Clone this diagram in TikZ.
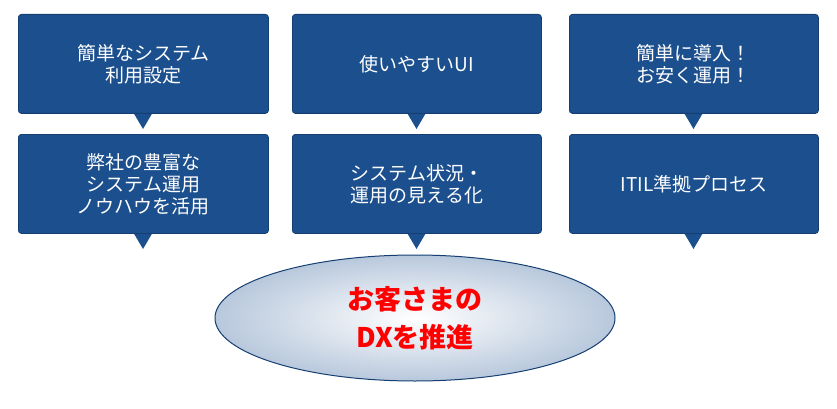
\documentclass[tikz,border=0pt]{standalone}
\usepackage{fontspec}
\setmainfont{Noto Sans CJK JP}
\usetikzlibrary{shadings,shapes.geometric}
\definecolor{boxblue}{HTML}{1B4F8E}
\definecolor{boxedge}{HTML}{153F72}
\definecolor{ellfill}{HTML}{B8C8DC}
\tikzset{
  callout/.style={fill=boxblue,draw=boxedge,line width=0.8pt,rounded corners=3pt},
  btxt/.style={text=white,font=\fontsize{19}{22}\selectfont,align=center},
}
\newcommand{\callbox}[5]{% name, x1, ytop, x2, text
  \pgfmathsetmacro{\cx}{(#2+#4)/2}
  \fill[boxblue] (\cx-10,-#3-99+1) -- (\cx+10,-#3-99+1) -- (\cx,-#3-99-16) -- cycle;
  \node[callout,minimum width={#4-#2},minimum height=99,anchor=north west,inner sep=0] (#1) at (#2,-#3) {};
  \node[btxt] (#1t) at (#1.center) {#5};
}
\begin{document}
\begin{tikzpicture}[x=1pt,y=1pt]
\useasboundingbox (0,0) rectangle (837,-409);
\callbox{a}{18}{14}{268}{簡単なシステム\\利用設定}
\callbox{b}{292}{14}{541}{使いやすいUI}
\callbox{c}{569}{14}{818}{簡単に導入！\\お安く運用！}
\callbox{d}{18}{134}{268}{弊社の豊富な\\システム運用\\ノウハウを活用}
\callbox{e}{292}{134}{541}{システム状況・\\運用の見える化}
\callbox{f}{569}{134}{818}{ITIL準拠プロセス}
\node[ellipse,draw=boxedge,line width=1pt,minimum width=400,minimum height=126,
  inner color=white,outer color=ellfill,
  text=red,font=\bfseries\fontsize{27}{38}\selectfont,align=center] (g) at (415,-318) {お客さまの\\DXを推進};
\end{tikzpicture}
\end{document}
